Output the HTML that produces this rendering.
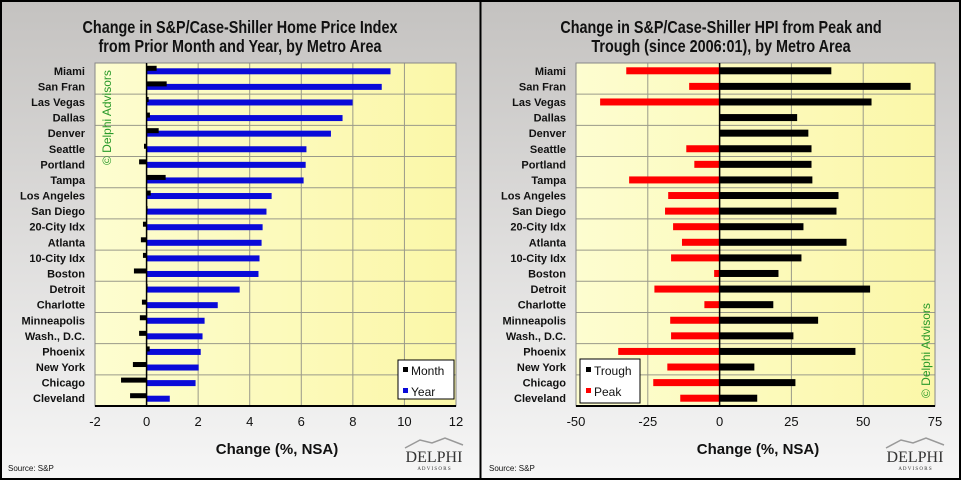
<!DOCTYPE html>
<html><head><meta charset="utf-8">
<style>
html,body{margin:0;padding:0;background:#000;}
svg{display:block;font-family:"Liberation Sans",Arial,sans-serif;}
</style></head>
<body>
<svg id="c" width="961" height="480" viewBox="0 0 961 480" xmlns="http://www.w3.org/2000/svg">
<defs>
<linearGradient id="bg" x1="0" y1="0" x2="0" y2="1">
<stop offset="0" stop-color="#c4c2c0"/><stop offset="0.5" stop-color="#dedddc"/><stop offset="1" stop-color="#f6f6f6"/></linearGradient>
<linearGradient id="pa" x1="0" y1="0" x2="1" y2="0">
<stop offset="0" stop-color="#fdfdd0"/><stop offset="1" stop-color="#fbf7a8"/></linearGradient>
</defs>
</svg>
<script>
const cities=["Miami","San Fran","Las Vegas","Dallas","Denver","Seattle","Portland","Tampa","Los Angeles","San Diego","20-City Idx","Atlanta","10-City Idx","Boston","Detroit","Charlotte","Minneapolis","Wash., D.C.","Phoenix","New York","Chicago","Cleveland"];
const monthVals=[0.39,0.78,0.08,0.13,0.47,-0.1,-0.29,0.74,0.16,0.02,-0.14,-0.22,-0.14,-0.49,0.03,-0.18,-0.26,-0.29,0.12,-0.53,-0.99,-0.64];
const yearVals=[9.46,9.12,7.99,7.6,7.15,6.2,6.17,6.09,4.85,4.65,4.5,4.46,4.38,4.34,3.61,2.76,2.25,2.17,2.1,2.02,1.9,0.9];
const troughVals=[38.9,66.5,52.9,27,30.9,32,32,32.3,41.4,40.7,29.2,44.2,28.5,20.5,52.4,18.7,34.3,25.7,47.3,12.1,26.4,13.1];
const peakVals=[-32.5,-10.6,-41.6,0,0,-11.6,-8.8,-31.5,-17.9,-19,-16.2,-13.1,-16.9,-1.9,-22.7,-5.3,-17.2,-16.9,-35.3,-18.2,-23.1,-13.7];
const leftTicks=[-2,0,2,4,6,8,10,12];
const rightTicks=[-50,-25,0,25,50,75];

const svg=document.getElementById('c');
const NS="http://www.w3.org/2000/svg";
function mk(tag,attrs,parent){const e=document.createElementNS(NS,tag);for(const k in attrs)e.setAttribute(k,attrs[k]);(parent||svg).appendChild(e);return e;}
function txt(s,attrs,parent){const e=mk('text',attrs,parent);e.textContent=s;return e;}

function panel(ox,title1,title2,xmin,xmax,ticks,plotL,plotR,name){
  const g=mk('g',{});
  
  
  const bg=mk('rect',{x:ox,y:0,width:480,height:480,fill:'url(#bg)'},g);
  
  
  const t1=txt(title1,{x:ox+240,y:33,'text-anchor':'middle','font-size':18,'font-weight':'bold',fill:'#111',transform:`translate(${ox+240} 0) scale(0.8 1) translate(${-(ox+240)} 0)`},g);
  
  
  const t2=txt(title2,{x:ox+240,y:52,'text-anchor':'middle','font-size':18,'font-weight':'bold',fill:'#111',transform:`translate(${ox+240} 0) scale(0.8 1) translate(${-(ox+240)} 0)`},g);
  
  
  const top=63,bot=406;
  const pa=mk('rect',{x:plotL,y:top,width:plotR-plotL,height:bot-top,fill:'url(#pa)'},g);
  
  
  const X=v=>plotL+(v-xmin)/(xmax-xmin)*(plotR-plotL);
  for(let i=1;i<11;i++){const y=top+i*(bot-top)/11;
    const l=mk('line',{x1:plotL,x2:plotR,y1:y,y2:y,stroke:'#9a9a8a','stroke-width':1},g);
    
    }
  ticks.forEach(t=>{const x=X(t);
    if(t!==xmin&&t!==xmax){const l=mk('line',{x1:x,x2:x,y1:top,y2:bot,stroke:'#9a9a8a','stroke-width':1},g);
      
      }
    const tl=txt(String(t),{x:x,y:426,'text-anchor':'middle','font-size':13,fill:'#111'},g);
    
    });
  const fr=mk('rect',{x:plotL,y:top,width:plotR-plotL,height:bot-top,fill:'none',stroke:'#888','stroke-width':1},g);
  
  
  const bl=mk('line',{x1:plotL,x2:plotR,y1:bot,y2:bot,stroke:'#000','stroke-width':2},g);
  
  
  const xt=txt('Change (%, NSA)',{x:ox+277,y:454,'text-anchor':'middle','font-size':15,'font-weight':'bold',fill:'#111'},g);
  
  
  const src=txt('Source:  S&P',{x:ox+8,y:471,'font-size':8,fill:'#111'},g);
  
  
  const lg=mk('g',{},g);
  
  
  mk('path',{d:`M${ox+405} 448 L${ox+420} 440 L${ox+432} 443 L${ox+445} 438 L${ox+463} 445`,stroke:'#999',fill:'none','stroke-width':1.5},lg);
  txt('DELPHI',{x:ox+434,y:462,'text-anchor':'middle','font-size':16,'font-family':'Liberation Serif, serif',fill:'#333'},lg);
  txt('A D V I S O R S',{x:ox+434,y:470,'text-anchor':'middle','font-size':5,'font-family':'Liberation Serif, serif',fill:'#333'},lg);
  const rowH=(bot-top)/cities.length;
  cities.forEach((c,i)=>{const cl=txt(c,{x:plotL-10,y:top+rowH*(i+0.5)+4,'text-anchor':'end','font-size':11,'font-weight':'bold',fill:'#111'},g);
    
    });
  return {X,top,bot,rowH,g};
}

// Left panel
const L=panel(0,'Change in  S&P/Case-Shiller Home Price Index','from Prior Month and Year, by Metro Area',-2,12,leftTicks,95,456,'left-chart');
cities.forEach((c,i)=>{
  const cy=L.top+L.rowH*(i+0.5);
  const y0=L.X(0);
  let v=yearVals[i];
  const yb=mk('rect',{x:Math.min(y0,L.X(v)),y:cy-2.5,width:Math.abs(L.X(v)-y0),height:6,fill:'#0a0ad8'},L.g);
  
  
  v=monthVals[i];
  const mb=mk('rect',{x:Math.min(y0,L.X(v)),y:cy-5,width:Math.max(1,Math.abs(L.X(v)-y0)),height:5,fill:'#000'},L.g);
  
  
});
{const zl=mk('line',{x1:L.X(0),x2:L.X(0),y1:L.top,y2:L.bot,stroke:'#000','stroke-width':1.5},L.g);

}
{const w=txt('© Delphi Advisors',{x:0,y:0,'font-size':12,fill:'#2a9a2a',transform:'translate(111 165) rotate(-90)'},L.g);

}
{const lgd=mk('g',{},L.g);


mk('rect',{x:398,y:360,width:56,height:39,fill:'#fff',stroke:'#000','stroke-width':1},lgd);
mk('rect',{x:403,y:367,width:5,height:5,fill:'#000'},lgd);
txt('Month',{x:411,y:375,'font-size':12,fill:'#111'},lgd);
mk('rect',{x:403,y:388,width:5,height:5,fill:'#0a0ad8'},lgd);
txt('Year',{x:411,y:396,'font-size':12,fill:'#111'},lgd);}

// Right panel
const R=panel(481,'Change in  S&P/Case-Shiller HPI from Peak and','Trough (since 2006:01), by Metro Area',-50,75,rightTicks,576,935,'right-chart');
cities.forEach((c,i)=>{
  const cy=R.top+R.rowH*(i+0.5);
  const x0=R.X(0);
  let v=troughVals[i];
  const tb=mk('rect',{x:x0,y:cy-3.5,width:R.X(v)-x0,height:7,fill:'#000'},R.g);
  
  
  v=peakVals[i];
  const pb=mk('rect',{x:R.X(v),y:cy-3.5,width:x0-R.X(v),height:7,fill:'#f00'},R.g);
  
  
});
{const zl=mk('line',{x1:R.X(0),x2:R.X(0),y1:R.top,y2:R.bot,stroke:'#000','stroke-width':1.5},R.g);

}
{const w=txt('© Delphi Advisors',{x:0,y:0,'font-size':12,fill:'#2a9a2a',transform:'translate(930 398) rotate(-90)'},R.g);

}
{const lgd=mk('g',{},R.g);


mk('rect',{x:580,y:359,width:60,height:44,fill:'#fff',stroke:'#000','stroke-width':1},lgd);
mk('rect',{x:586,y:367,width:5,height:5,fill:'#000'},lgd);
txt('Trough',{x:594,y:375,'font-size':12,fill:'#111'},lgd);
mk('rect',{x:586,y:388,width:5,height:5,fill:'#f00'},lgd);
txt('Peak',{x:594,y:396,'font-size':12,fill:'#111'},lgd);}

// borders
{const b=mk('rect',{x:1,y:1,width:959,height:478,fill:'none',stroke:'#000','stroke-width':2});


const d=mk('line',{x1:480.5,x2:480.5,y1:0,y2:480,stroke:'#000','stroke-width':2});

}
</script>
</body></html>
